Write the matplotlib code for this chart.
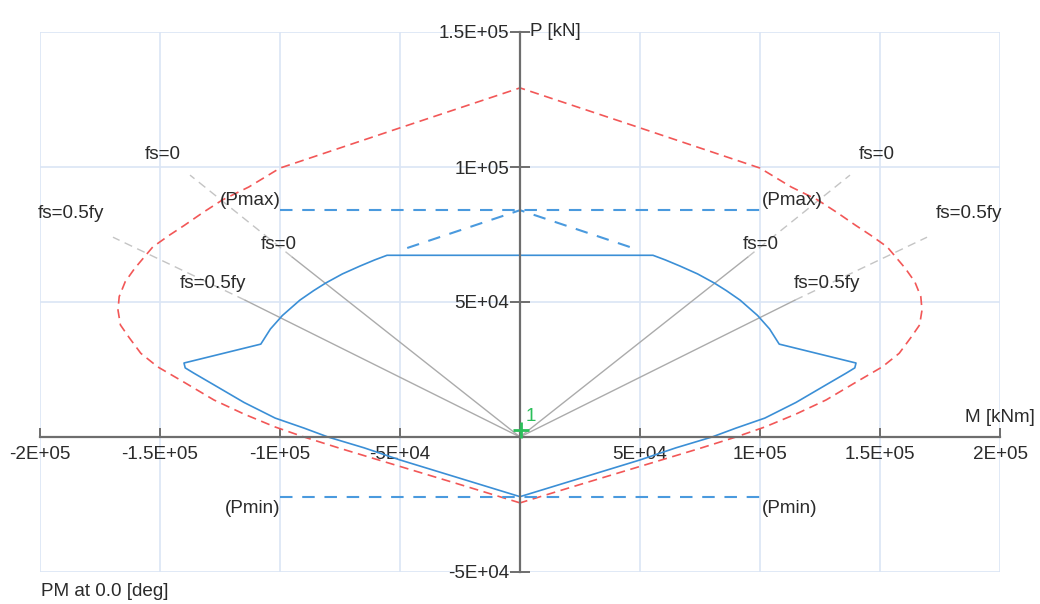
import matplotlib
matplotlib.use("Agg")
import matplotlib.pyplot as plt
from matplotlib.ticker import FixedLocator, FixedFormatter

plt.rcParams['font.family'] = ['Liberation Sans', 'DejaVu Sans']
plt.rcParams['lines.scale_dashes'] = False

# ---------------- data ----------------
# nominal PM curve (red dashed)
red_M = [0, -25000, -50000, -75000, -90000, -102000, -115000, -127500, -140000, -151000,
         -158000, -163000, -166500, -167500, -167000, -164500, -160500, -153000, -146000,
         -140000, -132000, -124000, -113000, -100000, -50000, 0,
         50000, 100000, 113000, 124000, 132000, 140000, 146000, 153000, 160500, 164500,
         167000, 167500, 166500, 163000, 158000, 151000, 140000, 127500, 115000, 102000,
         90000, 75000, 50000, 25000, 0]
red_P = [-24400, -17600, -10900, -4200, 0, 3700, 8500, 13700, 20300, 26000,
         31000, 37000, 41500, 47000, 52000, 57500, 62500, 70400, 74800,
         78300, 83200, 87800, 92600, 99600, 114500, 129300,
         114500, 99600, 92600, 87800, 83200, 78300, 74800, 70400, 62500, 57500,
         52000, 47000, 41500, 37000, 31000, 26000, 20300, 13700, 8500, 3700,
         0, -4200, -10900, -17600, -24400]

# design PM curve (blue solid)
blue_M = [0, -25000, -50000, -65000, -80000, -90000, -102000, -115000, -127500, -136000,
          -139500, -140000, -108000, -104000, -99000, -91700, -86000, -81000, -74000,
          -66700, -60500, -55400,
          55400, 60500, 66700, 74000, 81000, 86000, 91700, 99000, 104000, 108000, 140000,
          139500, 136000, 127500, 115000, 102000, 90000, 80000, 65000, 50000, 25000, 0]
blue_P = [-22100, -15300, -8500, -4000, 0, 3300, 7000, 12800, 19300, 23700,
          25600, 27400, 34400, 40000, 45000, 50700, 54200, 57000, 60400,
          63300, 65600, 67300,
          67300, 65600, 63300, 60400, 57000, 54200, 50700, 45000, 40000, 34400, 27400,
          25600, 23700, 19300, 12800, 7000, 3300, 0, -4000, -8500, -15300, -22100]

# capped-top dashed reference (blue dashed)
cap_M = [-47000, 0, 47000]
cap_P = [70000, 84000, 70000]

P_max = 84000
P_min = -22100
limit_M = [-100000, 100000]

# strain lines: inner end (solid) and outer end (dashed), left/right
fs_names = ['fs=0', 'fs=0.5fy']
fs_inner_M = [95000, 114600]
fs_inner_P = [66700, 50700]
fs_outer_M = [137500, 169600]
fs_outer_P = [97000, 74000]

# load point
load_M = [500]
load_P = [2500]
load_ids = ['1']

x_ticks = [-200000, -150000, -100000, -50000, 50000, 100000, 150000, 200000]
x_tick_labels = ['-2E+05', '-1.5E+05', '-1E+05', '-5E+04', '5E+04', '1E+05', '1.5E+05', '2E+05']
y_ticks = [-50000, 50000, 100000, 150000]
y_tick_labels = ['-5E+04', '5E+04', '1E+05', '1.5E+05']

# ---------------- figure ----------------
W, H = 1040, 604
fig = plt.figure(figsize=(W / 100, H / 100), dpi=100)
ax = fig.add_axes([40 / W, (H - 572) / H, 960 / W, 540 / H])
ax.set_xlim(-200000, 200000)
ax.set_ylim(-50000, 150000)

FS = 13.6
TXT = '#2b2b2b'
AXC = '#6e6e6e'
GRID = '#dae5f5'

ax.xaxis.set_major_locator(FixedLocator(x_ticks))
ax.xaxis.set_major_formatter(FixedFormatter(x_tick_labels))
ax.yaxis.set_major_locator(FixedLocator(y_ticks))
ax.yaxis.set_major_formatter(FixedFormatter(y_tick_labels))

ax.grid(True, color=GRID, linewidth=1.2, zorder=0)
ax.set_axisbelow(True)
for gl in ax.get_xgridlines() + ax.get_ygridlines():
    gl.set_clip_on(False)

for s in ['top', 'right']:
    ax.spines[s].set_visible(False)
ax.spines['left'].set_position('zero')
ax.spines['bottom'].set_position('zero')
for s in ['left', 'bottom']:
    ax.spines[s].set_color(AXC)
    ax.spines[s].set_linewidth(1.6)
    ax.spines[s].set_zorder(4)

ax.tick_params(axis='x', direction='in', length=6.5, width=1.4, color=AXC,
               labelsize=FS, labelcolor=TXT, pad=6.5)
ax.tick_params(axis='y', direction='inout', length=14, width=1.4, color=AXC,
               labelsize=FS, labelcolor=TXT, pad=1)

# curves
ax.plot(red_M, red_P, color='#f25757', lw=1.2, linestyle=(0, (6.5, 4)), zorder=3)
ax.plot(blue_M, blue_P, color='#3b8fd6', lw=1.2, zorder=3)
ax.plot(cap_M, cap_P, color='#4a9ade', lw=1.5, linestyle=(0, (9, 7)), zorder=3)
ax.plot(limit_M, [P_max, P_max], color='#4a9ade', lw=1.5, linestyle=(0, (9, 7)), zorder=3)
ax.plot(limit_M, [P_min, P_min], color='#4a9ade', lw=1.5, linestyle=(0, (9, 7)), zorder=3)

# strain lines
for name, im, ip, om, op in zip(fs_names, fs_inner_M, fs_inner_P, fs_outer_M, fs_outer_P):
    for sgn in (-1, 1):
        ax.plot([0, sgn * im], [0, ip], color='#ababab', lw=1.0, zorder=2.5)
        ax.plot([sgn * im, sgn * om], [ip, op], color='#c4c4c4', lw=1.0,
                linestyle=(0, (6, 4)), zorder=2.5)

inner_off = {'fs=0': (5, 12), 'fs=0.5fy': (1, 17)}
outer_off = {'fs=0': (9, 21), 'fs=0.5fy': (9, 24)}
for name, im, ip, om, op in zip(fs_names, fs_inner_M, fs_inner_P, fs_outer_M, fs_outer_P):
    dx, dy = inner_off[name]
    ax.annotate(name, (-im, ip), xytext=(dx, dy), textcoords='offset pixels',
                ha='right', va='center', fontsize=FS, color=TXT, zorder=5)
    ax.annotate(name, (im, ip), xytext=(-dx, dy), textcoords='offset pixels',
                ha='left', va='center', fontsize=FS, color=TXT, zorder=5)
    dx, dy = outer_off[name]
    ax.annotate(name, (-om, op), xytext=(-dx, dy), textcoords='offset pixels',
                ha='right', va='center', fontsize=FS, color=TXT, zorder=5)
    ax.annotate(name, (om, op), xytext=(dx, dy), textcoords='offset pixels',
                ha='left', va='center', fontsize=FS, color=TXT, zorder=5)

# Pmax / Pmin labels
ax.annotate('(Pmax)', (limit_M[0], P_max), xytext=(1, 10), textcoords='offset pixels',
            ha='right', va='center', fontsize=FS, color=TXT, zorder=5)
ax.annotate('(Pmax)', (limit_M[1], P_max), xytext=(2, 10), textcoords='offset pixels',
            ha='left', va='center', fontsize=FS, color=TXT, zorder=5)
ax.annotate('(Pmin)', (limit_M[0], P_min), xytext=(0, -12), textcoords='offset pixels',
            ha='right', va='center', fontsize=FS, color=TXT, zorder=5)
ax.annotate('(Pmin)', (limit_M[1], P_min), xytext=(2, -12), textcoords='offset pixels',
            ha='left', va='center', fontsize=FS, color=TXT, zorder=5)

# load point
ax.plot(load_M, load_P, marker='+', markersize=11, markeredgewidth=2,
        color='#2bbf5a', linestyle='none', zorder=6)
for m, p, lab in zip(load_M, load_P, load_ids):
    ax.annotate(lab, (m, p), xytext=(10, 14), textcoords='offset pixels',
                ha='center', va='center', fontsize=FS, color='#2bbf5a', zorder=6)

# axis titles
ax.annotate('P [kN]', (0, 150000), xytext=(10, 0), textcoords='offset pixels',
            ha='left', va='center', fontsize=FS, color=TXT)
ax.annotate('M [kNm]', (200000, 0), xytext=(-35, 20), textcoords='offset pixels',
            ha='left', va='center', fontsize=FS, color=TXT, annotation_clip=False)
fig.text(41 / W, (H - 592) / H, 'PM at 0.0 [deg]', ha='left', va='center',
         fontsize=FS, color=TXT)

fig.savefig('out.png', dpi=100)
